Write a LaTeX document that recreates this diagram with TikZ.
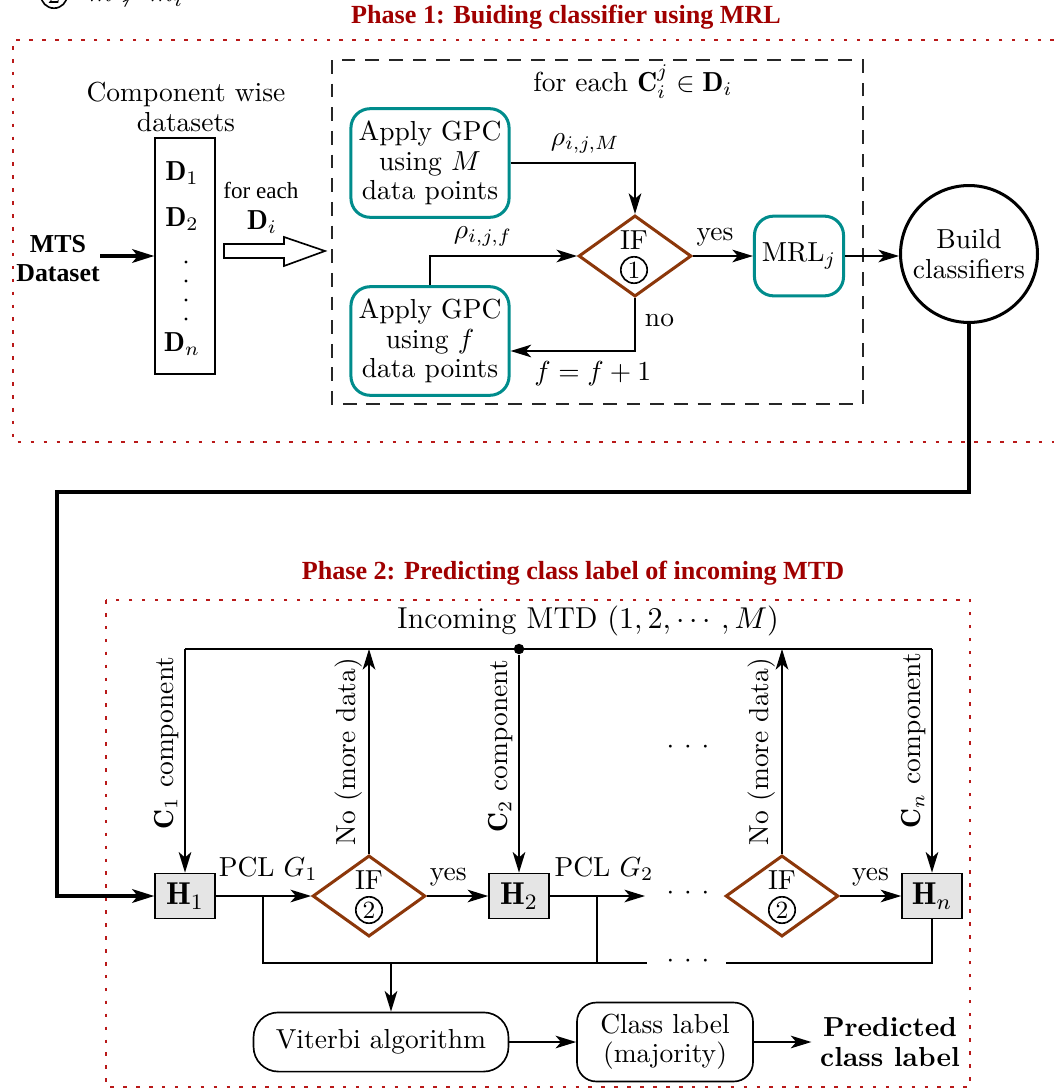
\documentclass[tikz,border=0pt]{standalone}
\usepackage{amsmath,amssymb}
\usepackage{fontspec}
\newfontfamily\timesfont{Liberation Serif}
\usetikzlibrary{arrows.meta,shapes.geometric,calc}
\definecolor{phred}{RGB}{160,0,0}
\definecolor{dotred}{RGB}{185,25,25}
\definecolor{tealc}{RGB}{0,140,140}
\definecolor{brownc}{RGB}{140,55,10}
\begin{document}
\begin{tikzpicture}[x=0.3636pt,y=-0.3636pt,
  font={\fontsize{10}{10.7}\selectfont},
  line width=0.6pt,
  arr/.style={-{Stealth[length=7.5pt,width=4.6pt,inset=2pt]}},
  thickarr/.style={line width=1.1pt,-{Stealth[length=8pt,width=5pt,inset=2pt]}},
  tealbox/.style={draw=tealc,line width=1.1pt,rounded corners=7pt,align=center,inner sep=1pt},
  ifdia/.style={diamond,draw=brownc,line width=1.1pt,minimum width=41pt,minimum height=29.5pt,inner sep=0pt},
  cnum/.style={circle,draw,line width=0.6pt,inner sep=0pt,minimum size=9.6pt,font=\small},
  hbox/.style={draw,fill=black!10,minimum width=21.8pt,minimum height=16.4pt,inner sep=0pt,font={\fontsize{11.5}{13}\selectfont}},
  reddot/.style={draw=dotred,line width=1pt,dash pattern=on 1.3pt off 3.4pt},
  dashbox/.style={draw=black!85,line width=0.7pt,dash pattern=on 5pt off 3.6pt},
  titlestyle/.style={text=phred,font=\timesfont\bfseries\fontsize{9.5}{11}\selectfont},
  rlab/.style={rotate=90,anchor=south,inner sep=2pt},
  dotsnode/.style={inner sep=0pt},
]
\useasboundingbox (0,0) rectangle (1054,1092);

% clipped fragment at the top-left
\node[cnum] (topc) at (54,-5) {2};
\node[anchor=base west,inner sep=0pt] (topm) at (88,2) {$m \not> m_i$};

% ---------------- Phase 1 ----------------
\node[titlestyle] (t1) at (566,17) {Phase 1: Buiding classifier using MRL};
\draw[reddot] (1054,40) -- (13,40) -- (13,442) -- (1054,442);
\draw[dashbox] (332,60) rectangle (863,404);

\node[align=center] (cwd) at (186,107) {Component wise\\datasets};
\node[draw,minimum width=21.8pt,minimum height=85.8pt,inner sep=0pt] (dsets) at (185,256) {};
\node (d1) at (182,173) {$\mathbf{D}_1$};
\node (d2) at (182,219) {$\mathbf{D}_2$};
\draw[line width=1.2pt,line cap=round,dash pattern=on 0pt off 6.9pt] (186,262) -- (186,319);
\node (dn) at (182,344) {$\mathbf{D}_n$};

\node[align=center,inner sep=0pt,font=\timesfont\bfseries\fontsize{9.4}{10.5}\selectfont] (mts) at (58,259) {MTS\\Dataset};
\draw[thickarr] (mts.east |- dsets.west) -- (dsets.west);

\node[font=\timesfont\fontsize{8.4}{10}\selectfont] (fe) at (261,190) {for each};
\node (fed) at (262,222) {$\mathbf{D}_i$};
\draw[line width=0.6pt] (224,244) -- (284,244) -- (284,237) -- (325,251) -- (284,266) -- (284,258) -- (224,258) -- cycle;

\node (foreach) at (633,82) {for each $\mathbf{C}_i^j \in \mathbf{D}_i$};

\node[tealbox,minimum width=57.5pt,minimum height=39.5pt] (gpcM) at (430,163) {Apply GPC\\using $M$\\data points};
\node[tealbox,minimum width=57.5pt,minimum height=39.5pt] (gpcF) at (430,341) {Apply GPC\\using $f$\\data points};
\node[ifdia] (if1) at (635,256) {};
\node (if1t) at (634,240) {IF};
\node[cnum] (if1n) at (634,270) {1};
\node[tealbox,minimum width=32.4pt,minimum height=29pt] (mrl) at (799,256) {MRL$_j$};
\node[circle,draw,line width=1.1pt,minimum size=49.8pt,inner sep=0pt,align=center] (build) at (969,254) {Build\\classifiers};

\draw[arr] (gpcM.east) -| (if1.north) node[pos=0.3,above] {$\rho_{i,j,M}$};
\draw[arr] (gpcF.north) |- (if1.west) node[pos=0.68,above] {$\rho_{i,j,f}$};
\draw[arr] (if1.east) -- (mrl.west) node[pos=0.37,above] {yes};
\coordinate (noturn) at (635,351);
\draw[arr] (if1.south) -- (noturn) node[pos=0.42,right] {no} -- (gpcF.east |- noturn) node[pos=0.34,below] {$f=f+1$};
\draw[arr] (mrl.east) -- (mrl.east -| build.west);

% connection to phase 2
\coordinate (r1) at (969,492);
\coordinate (r2) at (57,492);

% ---------------- Phase 2 ----------------
\node[titlestyle] (t2) at (573,573) {Phase 2: Predicting class label of incoming MTD};
\draw[reddot] (106,600) rectangle (970,1087);

\node[font={\fontsize{11}{13}\selectfont}] (inc) at (588,621) {Incoming MTD $(1,2,\cdots,M)$};

\node[hbox] (H1) at (185,896) {$\mathbf{H}_1$};
\node[hbox] (H2) at (519,896) {$\mathbf{H}_2$};
\node[hbox] (Hn) at (932,896) {$\mathbf{H}_n$};
\node[ifdia] (if2a) at (369,896) {};
\node (if2at) at (369,880) {IF};
\node[cnum] (if2an) at (369,910) {2};
\node[ifdia] (if2b) at (782,896) {};
\node (if2bt) at (782,880) {IF};
\node[cnum] (if2bn) at (782,910) {2};

\draw[thickarr] (build.south) -- (r1) -- (r2) |- (H1.west);

\coordinate (busL) at (185,649);
\coordinate (busR) at (932,649);
\draw (busL) -- (busR);
\node[circle,fill,inner sep=0pt,minimum size=3.8pt] (mtd) at (519,649) {};

\draw[arr] (busL) -- (H1.north) node[rlab,pos=0.42] {$\mathbf{C}_1$ component};
\draw[arr] (mtd) -- (H2.north) node[rlab,pos=0.42] {$\mathbf{C}_2$ component};
\draw[arr] (busR) -- (Hn.north) node[rlab,pos=0.41] {$\mathbf{C}_n$ component};
\draw[arr] (if2a.north) -- (if2a.north |- busL) node[rlab,pos=0.5] {No (more data)};
\draw[arr] (if2b.north) -- (if2b.north |- busL) node[rlab,pos=0.5] {No (more data)};

\draw[arr] (H1.east) -- (if2a.west) node[pos=0.55,above=2pt] {PCL $G_1$};
\draw[arr] (if2a.east) -- (H2.west) node[pos=0.35,above] {yes};
\coordinate (h2end) at (645,896);
\draw[arr] (H2.east) -- (h2end) node[pos=0.57,above=2pt] {PCL $G_2$};
\draw[arr] (if2b.east) -- (Hn.west) node[pos=0.5,above] {yes};

\node[dotsnode] (dotsA) at (688,747) {$\cdot$\hspace{3.6pt}$\cdot$\hspace{3.6pt}$\cdot$};
\node[dotsnode] (dotsB) at (688,893) {$\cdot$\hspace{3.6pt}$\cdot$\hspace{3.6pt}$\cdot$};
\node[dotsnode] (dotsC) at (688,961) {$\cdot$\hspace{3.6pt}$\cdot$\hspace{3.6pt}$\cdot$};

\coordinate (br1) at (263,896);
\coordinate (br2) at (597,896);
\coordinate (bbL) at (647,963);
\coordinate (bbR) at (726,963);
\draw (br1) |- (bbL);
\draw (br2) -- (br2 |- bbL);
\draw (bbR) -| (Hn.south);

\node[draw,rounded corners=9pt,minimum width=92.7pt,minimum height=21.5pt,inner sep=0pt] (vit) at (381,1042) {Viterbi algorithm};
\node[draw,rounded corners=7pt,minimum width=64pt,minimum height=28.7pt,inner sep=0pt,align=center] (cls) at (665,1042) {Class label\\(majority)};
\node[align=center,inner sep=0pt,font={\bfseries\fontsize{10}{10.7}\selectfont}] (pred) at (890,1042) {Predicted\\class label};

\coordinate (vt) at (391,963);
\draw[arr] (vt) -- (vt |- vit.north);
\draw[arr] (vit.east) -- (cls.west);
\draw[arr] (cls.east) -- ($(pred.west)+(-8,0)$);
\end{tikzpicture}
\end{document}
